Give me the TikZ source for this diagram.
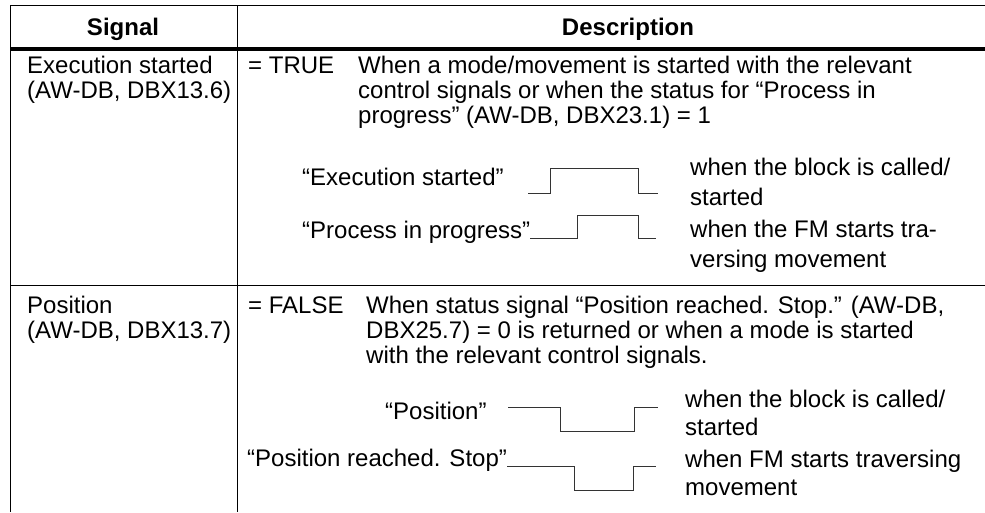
\documentclass[tikz,border=0pt]{standalone}
\usepackage{fontspec}
\setmainfont{Liberation Sans}
\tikzset{
  txt/.style={anchor=base west, inner sep=0pt, font=\fontsize{24}{25}\selectfont},
  head/.style={anchor=base, inner sep=0pt, font=\fontsize{24}{25}\selectfont\bfseries},
  rule/.style={line width=1pt},
  wave/.style={line width=1pt, black!80}
}
\begin{document}
\begin{tikzpicture}[x=1pt,y=-1pt]
  \useasboundingbox (0,0) rectangle (985,512);
  % table rules
  \draw[rule] (10,5) -- (985,5);
  \draw[line width=3.5pt] (10,49) -- (985,49);
  \draw[rule] (10,285) -- (985,285);
  \draw[rule] (10,5) -- (10,512);
  \draw[rule] (237,5) -- (237,512);
  % header
  \node[head] (hsig) at (123,35) {Signal};
  \node[head] (hdesc) at (628,35) {Description};
  % execution started
  \node[txt] (es1) at (27,73) {Execution started};
  \node[txt] (es2) at (27,98) {(AW-DB, DBX13.6)};
  \node[txt] (true) at (248,73) {= TRUE};
  \node[txt] (d1a) at (358,73) {When a mode/movement is started with the relevant};
  \node[txt] (d1b) at (358,98) {control signals or when the status for “Process in};
  \node[txt] (d1c) at (358,123) {progress” (AW-DB, DBX23.1) = 1};
  \node[txt] (les) at (302,185) {“Execution started”};
  \node[txt] (lpip) at (302,238) {“Process in progress”};
  \node[txt] (r1a) at (690,175) {when the block is called/};
  \node[txt] (r1b) at (690,205) {started};
  \node[txt] (r1c) at (690,237) {when the FM starts tra-};
  \node[txt] (r1d) at (690,267) {versing movement};
  \draw[wave] (528,193) -| (550,168) -| (638,193) -- (658,193);
  \draw[wave] (lpip.base east) -| (577,215) -| (638,238) -- (656,238);
  % position
  \node[txt] (pos1) at (27,313) {Position};
  \node[txt] (pos2) at (27,338) {(AW-DB, DBX13.7)};
  \node[txt] (false) at (248,313) {= FALSE};
  \node[txt] (d2a) at (366,313) {When status signal “Position reached. Stop.” (AW-DB,};
  \node[txt] (d2b) at (366,338) {DBX25.7) = 0 is returned or when a mode is started};
  \node[txt] (d2c) at (366,363) {with the relevant control signals.};
  \node[txt] (lpos) at (385,419) {“Position”};
  \node[txt] (lprs) at (247,466) {“Position reached. Stop”};
  \node[txt] (r2a) at (685,407) {when the block is called/};
  \node[txt] (r2b) at (685,435) {started};
  \node[txt] (r2c) at (685,467) {when FM starts traversing};
  \node[txt] (r2d) at (685,495) {movement};
  \draw[wave] (508,407) -| (560,431) -| (634,407) -- (658,407);
  \draw[wave] (lprs.base east) -| (574,490) -| (633,466) -- (656,466);
\end{tikzpicture}
\end{document}
